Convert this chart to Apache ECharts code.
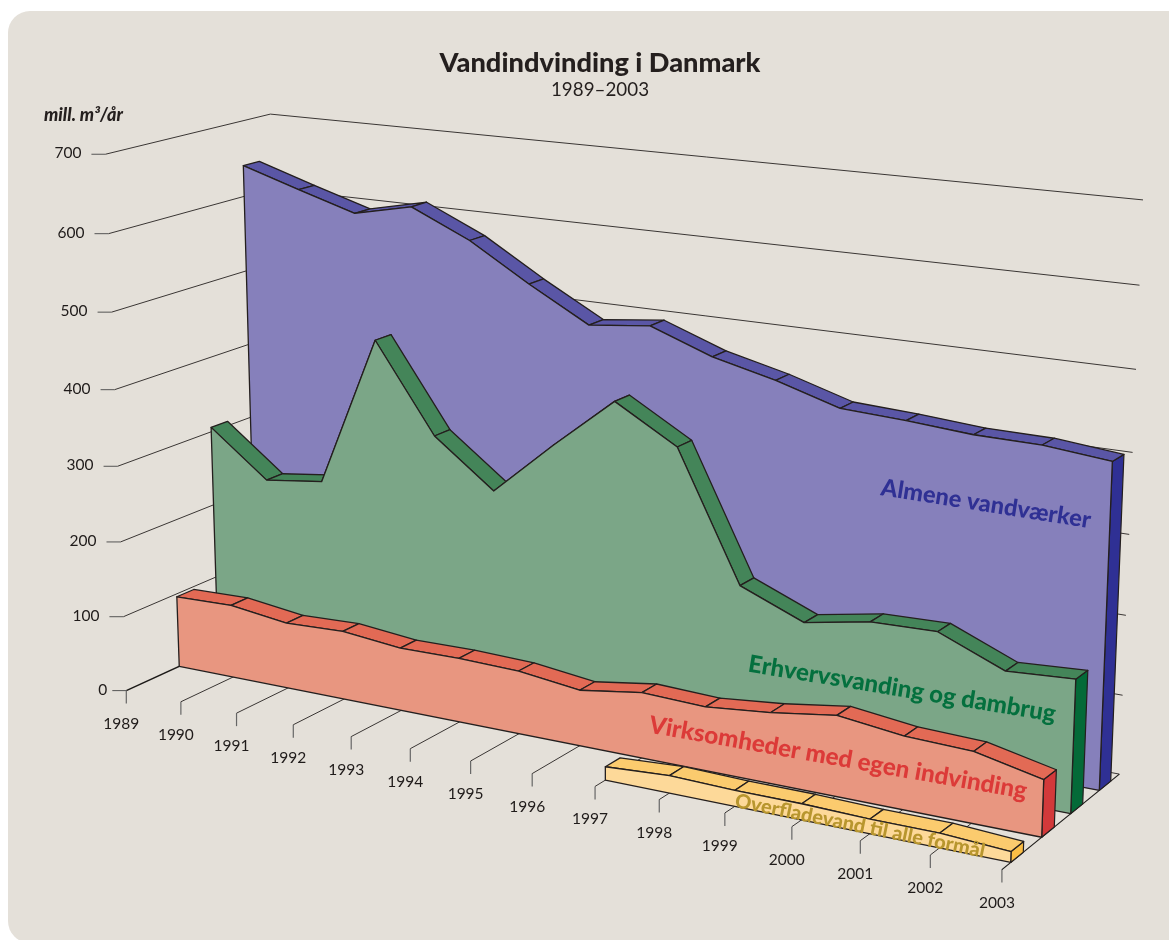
<!DOCTYPE html>
<html><head><meta charset="utf-8"><style>html,body{margin:0;background:#fff}#c{width:1169px;height:940px}</style>
<script src="https://cdn.jsdelivr.net/npm/echarts@6/dist/echarts.min.js"></script></head>
<body><div id="c"></div>
<script>
const years=['1989','1990','1991','1992','1993','1994','1995','1996','1997','1998','1999','2000','2001','2002','2003'];
const valueTicks=[0,100,200,300,400,500,600,700];
const almene=[641,617,594,611,576,529,486,495,466,447,423,419,413,412,404];
const erhverv=[306,246,256,454,340,280,351,418,372,210,177,192,194,160,165];
const virksomheder=[96,98,88,91,83,84,82,72,84,81,89,101,91,88,70];
const overflade=[null,null,null,null,null,null,null,null,17,22,20,20,18,18,13];

// Oblique camera: maps (x share, y share, depth) to the page
const CAM=[0.73947,-0.02524,0.17616,0.12630,0.06083,-0.54275,-0.03087,0.69061,-0.13588,-0.04135,0.06672];
const GRID={left:0,top:0,width:1000,height:700};
const FONT='Lato, "Open Sans", sans-serif';
const INK='#241f1e';
function project(px,d){
  const s=(px[0]-GRID.left)/GRID.width, r=(GRID.top+GRID.height-px[1])/GRID.height, c=CAM;
  const w=c[8]*s+c[9]*r+c[10]*d+1;
  return [1000*(c[0]*s+c[1]*r+c[2]*d+c[3])/w,1000*(c[4]*s+c[5]*r+c[6]*d+c[7])/w];
}
const line=(a,b,stroke,lw)=>({type:'line',shape:{x1:a[0],y1:a[1],x2:b[0],y2:b[1]},style:{stroke,lineWidth:lw,fill:null},silent:true});
const poly=(pts,fill,lw)=>({type:'polygon',shape:{points:pts},style:{fill,stroke:INK,lineWidth:lw,lineJoin:'round'},silent:true});
const label=(text,x,y,align)=>({type:'text',x,y,style:{text,fill:'#1f1b1a',font:'15.5px '+FONT,align,verticalAlign:'middle'},silent:true});

function wallItem(params,api){
  const v=api.value(0), p=d=>project(api.coord([0,v]),d), q=project(api.coord([14,v]),1);
  const a=p(0), b=p(1), off=v===0?19:24, kids=[line([a[0]-14,a[1]],a,'#555',1),label(String(v),a[0]-off,a[1]-1,'right')];
  kids.push(line(a,b,v===0?'#1c1a18':'#3a3634',v===0?1.5:1));
  kids.push(line(b,q,'#3a3634',1));
  return {type:'group',children:kids};
}
function yearItem(params,api){
  const i=api.value(0), a=project(api.coord([i,0]),0), b=project(api.coord([i,0]),1);
  const kids=[line([a[0],a[1]],[a[0],a[1]+13],'#666',1.2),label(years[i],a[0]-5,a[1]+33,'center')];
  if(i>0) kids.push(line(a,b,i===14?'#1c1a18':'#3a3634',i===14?1.2:1));
  return {type:'group',children:kids};
}
function planeSeries(name,values,front,back,faceCol,bandCol,endCol){
  const rows=[];values.forEach((v,i)=>{if(v!==null)rows.push([i,v]);});
  return {type:'custom',name,coordinateSystem:'cartesian2d',xAxisIndex:0,yAxisIndex:0,clip:false,silent:true,
    encode:{x:0,y:1},data:rows,z:5,
    renderItem(params,api){
      const i=api.value(0), v=api.value(1), kids=[];
      const last=params.dataIndex===rows.length-1;
      const top=project(api.coord([i,v]),front), topB=project(api.coord([i,v]),back);
      if(last){
        kids.push(poly([top,topB,project(api.coord([i,0]),back),project(api.coord([i,0]),front)],endCol,1.2));
        // bands: back to front along the series, then the face over them
        rows.slice(0,-1).forEach((r,k)=>{
          const n=rows[k+1];
          kids.push(poly([project(api.coord(r),front),project(api.coord(r),back),project(api.coord(n),back),project(api.coord(n),front)],bandCol,1.3));
        });
        const pts=rows.map(r=>project(api.coord(r),front));
        pts.push(project(api.coord([i,0]),front),project(api.coord([rows[0][0],0]),front));
        kids.push(poly(pts,faceCol,1.3));
      }
      return {type:'group',children:kids};
    }};
}
const plainLabel=(text,x,y,rot,size,fill)=>({type:'text',x,y,rotation:-rot*Math.PI/180,z:50,silent:true,
  style:{text,fill,font:'900 '+size+'px '+FONT,align:'center',verticalAlign:'middle'}});

const chart=echarts.init(document.getElementById('c'),null,{renderer:'canvas'});
chart.setOption({
  animation:false,
  backgroundColor:'#fff',
  title:{text:'Vandindvinding i Danmark',subtext:'1989–2003',left:595,top:43,textAlign:'center',itemGap:1,
    textStyle:{fontFamily:FONT,fontWeight:900,fontSize:27.2,color:'#241f1e',lineHeight:30},
    subtextStyle:{fontFamily:FONT,fontSize:18.8,color:'#241f1e',lineHeight:22}},
  grid:{left:GRID.left,top:GRID.top,width:GRID.width,height:GRID.height,containLabel:false},
  xAxis:{type:'category',data:years,boundaryGap:false,show:false},
  yAxis:{type:'value',min:0,max:700,interval:100,show:false},
  tooltip:{show:false},
  graphic:[
    {type:'rect',z:-10,silent:true,shape:{x:8,y:11,width:1250,height:932,r:22},style:{fill:'#e4e0d9'}},
    {type:'text',x:44,y:115,z:50,silent:true,style:{text:'mill. m³/år',fill:'#241f1e',font:'italic 900 18px '+FONT,verticalAlign:'middle'}},
    plainLabel('Almene vandværker',986,504,9,23.6,'#2f3094'),
    plainLabel('Erhvervsvanding og dambrug',902,689,9.3,24,'#04703e'),
    plainLabel('Virksomheder med egen indvinding',838,758,10,24.2,'#dc3a38'),
    plainLabel('Overfladevand til alle formål',860,826,11.5,20,'#b8962e')
  ],
  series:[
    {type:'custom',name:'Værdiakse',coordinateSystem:'cartesian2d',silent:true,clip:false,data:valueTicks.map(v=>[v]),encode:{y:0},renderItem:wallItem,z:2},
    {type:'custom',name:'År',coordinateSystem:'cartesian2d',silent:true,clip:false,data:years.map((y,i)=>[i]),encode:{x:0},renderItem:yearItem,z:3},
    planeSeries('Almene vandværker',almene,0.8186,0.9212,'#8680bb','#5a56a6','#2f3094'),
    planeSeries('Erhvervsvanding og dambrug',erhverv,0.5677,0.6718,'#7ba687','#448559','#046a38'),
    planeSeries('Virksomheder med egen indvinding',virksomheder,0.3224,0.4279,'#e89680','#e26a55','#d2393a'),
    planeSeries('Overfladevand til alle formål',overflade,0.0699,0.1714,'#fdd999','#fbcb6e','#fbbe45')
  ]
});
</script></body></html>
